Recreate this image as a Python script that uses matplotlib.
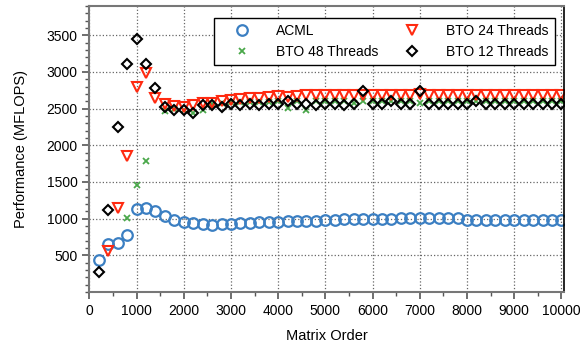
import matplotlib
matplotlib.use('Agg')
import matplotlib.pyplot as plt
import numpy as np
from matplotlib.ticker import MultipleLocator

plt.rcParams['font.family'] = ['Liberation Sans', 'DejaVu Sans']

# matrix orders 200..10000 step 200
order = list(range(200, 10001, 200))

acml = [440, 655, 665, 775, 1130, 1140, 1100, 1030, 985, 960,
        935, 925, 920, 925, 930, 940, 945, 950, 955, 960,
        965, 965, 970, 975, 980, 985, 990, 990, 995, 995,
        1000, 1000, 1005, 1005, 1010, 1010, 1010, 1010, 1005, 985,
        980, 980, 980, 980, 980, 980, 980, 980, 980, 980]

# 24 threads starts at 400
order24 = order[1:]
bto24 = [565, 1140, 1855, 2790, 2985, 2650, 2560, 2535, 2527,
         2545, 2570, 2580, 2600, 2620, 2630, 2640, 2650, 2660, 2670,
         2660, 2670, 2680, 2690, 2680, 2690, 2690, 2690, 2680, 2690,
         2680, 2690, 2690, 2680, 2700, 2680, 2690, 2680, 2690, 2680,
         2690, 2680, 2690, 2680, 2690, 2690, 2680, 2690, 2680, 2685]

bto12 = [270, 1120, 2255, 3105, 3455, 3105, 2775, 2520, 2482, 2482,
         2437, 2546, 2546, 2527, 2563, 2546, 2563, 2555, 2560, 2560,
         2605, 2560, 2560, 2555, 2560, 2560, 2555, 2560, 2740, 2560,
         2560, 2605, 2560, 2560, 2740, 2560, 2560, 2560, 2560, 2560,
         2605, 2560, 2560, 2560, 2560, 2560, 2560, 2560, 2560, 2560]

# 48 threads starts at 800, one point (1400) not visible
order48 = order[3:]
bto48 = [1005, 1465, 1790, np.nan, 2465, 2490, 2480, 2440, 2475, 2560,
         2580, 2590, 2590, 2590, 2590, 2590, 2600, 2505, 2600, 2485,
         2600, 2600, 2600, 2600, 2575, 2600, 2600, 2600, 2600, 2600,
         2600, 2575, 2600, 2600, 2600, 2600, 2600, 2600, 2600, 2600,
         2600, 2600, 2600, 2600, 2600, 2600, 2600]

fig = plt.figure(figsize=(5.8, 3.44), dpi=100)
ax = fig.add_axes([0.154, 0.151, 0.818, 0.832])

ax.plot(order, acml, 'o', ls='none', mfc='none', mec='#3b7fc2', ms=7.6,
        mew=1.6, label='ACML')
ax.plot(order48, bto48, 'x', ls='none', color='#4aa84a', ms=4.3,
        mew=1.3, label='BTO 48 Threads')
ax.plot(order24, bto24, 'v', ls='none', mfc='none', mec='#ff2a10', ms=7,
        mew=1.5, label='BTO 24 Threads')
ax.plot(order, bto12, 'D', ls='none', mfc='none', mec='black', ms=5.2,
        mew=1.5, label='BTO 12 Threads')

ax.set_xlim(0, 10050)
ax.set_ylim(0, 3900)
ax.set_xticks(np.arange(0, 10001, 1000))
ax.set_yticks(np.arange(500, 3501, 500))
ax.xaxis.set_minor_locator(MultipleLocator(500))
ax.yaxis.set_minor_locator(MultipleLocator(100))
ax.tick_params(which='both', direction='out', top=False, right=False,
               labelsize=10, color='#555555')
ax.tick_params(which='major', length=5, width=1.2)
ax.tick_params(which='minor', length=3, width=1)
ax.grid(True, which='major', ls=':', color='#666666', lw=0.9)

for side in ['left', 'bottom', 'top']:
    ax.spines[side].set_color('#777777')
    ax.spines[side].set_linewidth(1.5)
ax.spines['right'].set_color('black')
ax.spines['right'].set_linewidth(1.2)

ax.set_xlabel('Matrix Order', fontsize=10.5, labelpad=8)
ax.set_ylabel('Performance (MFLOPS)', fontsize=10.5, labelpad=13)

leg = ax.legend(ncol=2, loc='upper right', bbox_to_anchor=(0.981, 0.958),
                borderaxespad=0, numpoints=1, fontsize=10, fancybox=False,
                framealpha=1, edgecolor='black', columnspacing=0.9,
                handlelength=3.1, handletextpad=0.9, borderpad=0.45,
                labelspacing=0.5)
leg.get_frame().set_linewidth(1.0)

fig.savefig('out.png', dpi=100)
